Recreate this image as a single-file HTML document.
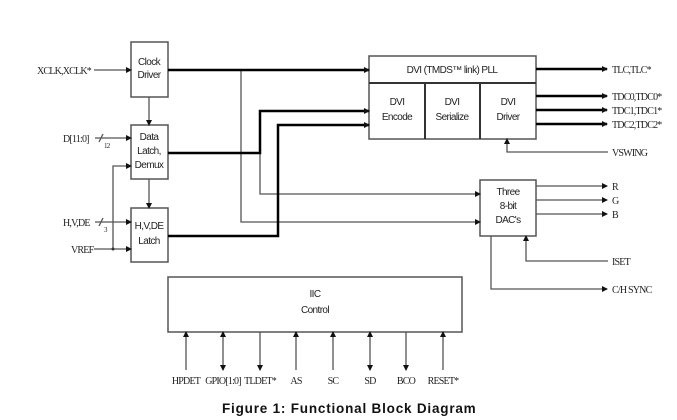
<!DOCTYPE html>
<html><head><meta charset="utf-8"><style>
html,body{margin:0;padding:0;background:#fff;}
svg{display:block;}
.s{font-family:"Liberation Sans",sans-serif;font-size:10px;fill:#222;letter-spacing:-0.6px;}
.r{font-family:"Liberation Serif",serif;font-size:10px;fill:#222;letter-spacing:-0.8px;}
</style></head><body>
<svg width="677" height="420" viewBox="0 0 677 420" xmlns="http://www.w3.org/2000/svg">
<defs>
<marker id="a" markerWidth="6" markerHeight="6" refX="5" refY="3" orient="auto" markerUnits="userSpaceOnUse"><path d="M0,0 L6,3 L0,6 z" fill="#111"/></marker>
</defs>
<g fill="none" stroke="#555" stroke-width="1.5">
<rect x="131" y="42" width="37" height="55"/>
<rect x="131" y="125" width="37" height="54"/>
<rect x="131" y="208" width="37" height="54"/>
<rect x="369" y="56" width="167" height="83"/>
<line x1="369" y1="83" x2="536" y2="83" stroke="#333" stroke-width="2"/>
<line x1="425" y1="83" x2="425" y2="139" stroke="#333" stroke-width="2"/>
<line x1="480" y1="83" x2="480" y2="139" stroke="#333" stroke-width="2"/>
<rect x="480" y="180" width="56" height="56"/>
<rect x="168" y="277" width="294" height="55"/>
</g>
<g fill="none" stroke="#555" stroke-width="1.3">
<line x1="94" y1="70" x2="131" y2="70" marker-end="url(#a)"/>
<line x1="149" y1="97" x2="149" y2="125" marker-end="url(#a)"/>
<line x1="149" y1="179" x2="149" y2="208" marker-end="url(#a)"/>
<line x1="95" y1="138" x2="131" y2="138" marker-end="url(#a)"/>
<line x1="95" y1="222" x2="131" y2="222" marker-end="url(#a)"/>
<line x1="94" y1="249" x2="131" y2="249" marker-end="url(#a)"/>
<polyline points="113,249 113,166 131,166" marker-end="url(#a)"/>
<line x1="99" y1="142" x2="103" y2="134"/>
<line x1="99" y1="226" x2="103" y2="218"/>
<polyline points="241,70 241,222 480,222" marker-end="url(#a)"/>
<polyline points="260,153 260,194 480,194" marker-end="url(#a)"/>
<polyline points="608,152 507,152 507,139" marker-end="url(#a)"/>
<line x1="536" y1="186" x2="607" y2="186" marker-end="url(#a)"/>
<line x1="536" y1="200" x2="607" y2="200" marker-end="url(#a)"/>
<line x1="536" y1="214" x2="607" y2="214" marker-end="url(#a)"/>
<polyline points="608,261 526,261 526,236" marker-end="url(#a)"/>
<polyline points="491,236 491,289 607,289" marker-end="url(#a)"/>
<line x1="186" y1="370" x2="186" y2="332" marker-end="url(#a)"/>
<line x1="223" y1="351" x2="223" y2="332" marker-end="url(#a)"/>
<line x1="223" y1="351" x2="223" y2="370" marker-end="url(#a)"/>
<line x1="260" y1="332" x2="260" y2="370" marker-end="url(#a)"/>
<line x1="296" y1="370" x2="296" y2="332" marker-end="url(#a)"/>
<line x1="333" y1="370" x2="333" y2="332" marker-end="url(#a)"/>
<line x1="370" y1="351" x2="370" y2="332" marker-end="url(#a)"/>
<line x1="370" y1="351" x2="370" y2="370" marker-end="url(#a)"/>
<line x1="406" y1="332" x2="406" y2="370" marker-end="url(#a)"/>
<line x1="443" y1="370" x2="443" y2="332" marker-end="url(#a)"/>
</g>
<circle cx="113" cy="249" r="1.5" fill="#333"/>
<g fill="none" stroke="#000" stroke-width="2.5">
<line x1="168" y1="70" x2="369" y2="70" marker-end="url(#a)"/>
<polyline points="168,153 260,153 260,111 369,111" marker-end="url(#a)"/>
<polyline points="168,236 278,236 278,125 369,125" marker-end="url(#a)"/>
<line x1="536" y1="69" x2="607" y2="69" marker-end="url(#a)"/>
<line x1="536" y1="96" x2="607" y2="96" marker-end="url(#a)"/>
<line x1="536" y1="110" x2="607" y2="110" marker-end="url(#a)"/>
<line x1="536" y1="124" x2="607" y2="124" marker-end="url(#a)"/>
</g>
<g class="s" text-anchor="middle">
<text x="149" y="65">Clock</text><text x="149" y="78">Driver</text>
<text x="149" y="140">Data</text><text x="149" y="154">Latch,</text><text x="149" y="168">Demux</text>
<text x="149" y="229">H,V,DE</text><text x="149" y="244">Latch</text>
<text x="452" y="73">DVI (TMDS™ link) PLL</text>
<text x="397" y="105">DVI</text><text x="397" y="120">Encode</text>
<text x="452" y="105">DVI</text><text x="452" y="120">Serialize</text>
<text x="508" y="105">DVI</text><text x="508" y="120">Driver</text>
<text x="508" y="195">Three</text><text x="508" y="209">8-bit</text><text x="508" y="223">DAC's</text>
<text x="315" y="297">IIC</text><text x="315" y="313">Control</text>
</g>
<g class="r">
<text x="37" y="74">XCLK,XCLK*</text>
<text x="63" y="142">D[11:0]</text>
<text x="104" y="148" font-size="7">12</text>
<text x="63" y="226">H,V,DE</text>
<text x="104" y="232" font-size="7">3</text>
<text x="71" y="253">VREF</text>
<text x="612" y="73">TLC,TLC*</text>
<text x="612" y="100">TDC0,TDC0*</text>
<text x="612" y="114">TDC1,TDC1*</text>
<text x="612" y="128">TDC2,TDC2*</text>
<text x="612" y="156">VSWING</text>
<text x="612" y="190">R</text>
<text x="612" y="204">G</text>
<text x="612" y="218">B</text>
<text x="612" y="265">ISET</text>
<text x="612" y="293">C/H SYNC</text>
</g>
<g class="r" text-anchor="middle">
<text x="186" y="384">HPDET</text><text x="223" y="384">GPIO[1:0]</text><text x="260" y="384">TLDET*</text>
<text x="296" y="384">AS</text><text x="333" y="384">SC</text><text x="370" y="384">SD</text>
<text x="406" y="384">BCO</text><text x="443" y="384">RESET*</text>
</g>
<text x="222" y="413" font-family="Liberation Sans,sans-serif" font-weight="bold" font-size="13.5" fill="#111" letter-spacing="0.8">Figure 1:  Functional Block Diagram</text>
</svg>
</body></html>
